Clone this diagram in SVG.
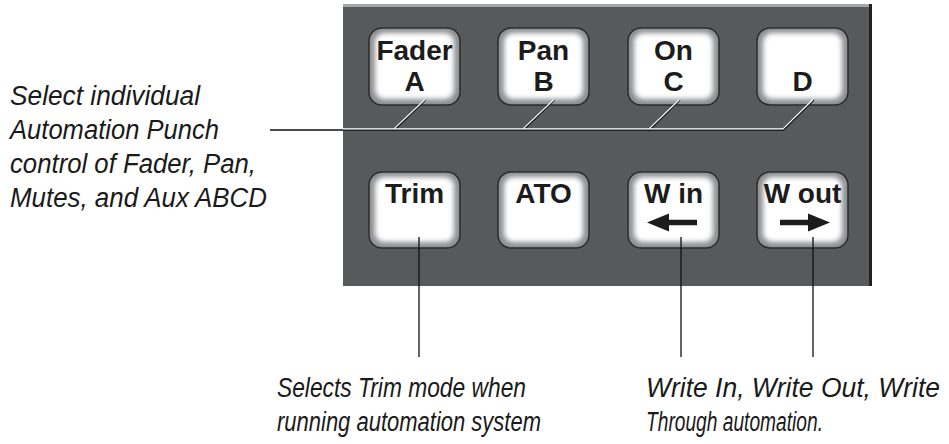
<svg xmlns="http://www.w3.org/2000/svg" width="949" height="444" viewBox="0 0 949 444">
<defs>
<filter id="soft" x="-20%" y="-20%" width="140%" height="140%"><feGaussianBlur stdDeviation="2.6"/></filter>
<style>
.btn{fill:#8e8f91;stroke:#2b2b2b;stroke-width:1.5}
.glow{fill:#ffffff;filter:url(#soft)}
.bt{font-family:"Liberation Sans",Arial,sans-serif;font-weight:bold;font-size:28px;fill:#1c1c1c;text-anchor:middle}
.note{font-family:"Liberation Sans",Arial,sans-serif;font-style:italic;font-size:27px;fill:#1a1a1a}
.lk{stroke:#111;stroke-width:1.3;fill:none}
.lw{stroke:#fff;stroke-width:1.1;fill:none}
</style>
</defs>
<rect width="949" height="444" fill="#ffffff"/>
<g id="panel">
<rect x="343" y="4" width="528" height="282" fill="#58595b"/>
<rect x="343" y="4" width="528" height="3" fill="#a3a7ab"/>
<rect x="869" y="4" width="3" height="282" fill="#231f20"/>
</g>
<g id="btn-fader"><rect class="btn" x="369" y="28" width="91" height="77" rx="13"/><rect class="glow" x="375" y="33" width="79" height="66" rx="9"/><text class="bt" x="414.5" y="60">Fader</text><text class="bt" x="414.5" y="91">A</text></g>
<g id="btn-pan"><rect class="btn" x="498" y="28" width="91" height="77" rx="13"/><rect class="glow" x="504" y="33" width="79" height="66" rx="9"/><text class="bt" x="543.5" y="60">Pan</text><text class="bt" x="543.5" y="91">B</text></g>
<g id="btn-on"><rect class="btn" x="628" y="28" width="91" height="77" rx="13"/><rect class="glow" x="634" y="33" width="79" height="66" rx="9"/><text class="bt" x="673.5" y="60">On</text><text class="bt" x="673.5" y="91">C</text></g>
<g id="btn-d"><rect class="btn" x="757" y="28" width="91" height="77" rx="13"/><rect class="glow" x="763" y="33" width="79" height="66" rx="9"/><text class="bt" x="802.5" y="91">D</text></g>
<g id="btn-trim"><rect class="btn" x="369" y="172" width="91" height="76" rx="13"/><rect class="glow" x="375" y="177" width="79" height="65" rx="9"/><text class="bt" x="414.5" y="203">Trim</text></g>
<g id="btn-ato"><rect class="btn" x="498" y="172" width="91" height="76" rx="13"/><rect class="glow" x="504" y="177" width="79" height="65" rx="9"/><text class="bt" x="543.5" y="203">ATO</text></g>
<g id="btn-win"><rect class="btn" x="628" y="172" width="91" height="76" rx="13"/><rect class="glow" x="634" y="177" width="79" height="65" rx="9"/><text class="bt" x="673.5" y="203">W in</text><path d="M647 222.5 L669 213.5 L669 219.8 L697 219.8 L697 225.2 L669 225.2 L669 231.5 Z" fill="#1c1c1c"/></g>
<g id="btn-wout"><rect class="btn" x="757" y="172" width="91" height="76" rx="13"/><rect class="glow" x="763" y="177" width="79" height="65" rx="9"/><text class="bt" x="802.5" y="203">W out</text><path d="M830 222.5 L808 213.5 L808 219.8 L780 219.8 L780 225.2 L808 225.2 L808 231.5 Z" fill="#1c1c1c"/></g>
<g id="connectors">
<path class="lk" d="M270 130 H783.5 L814 100"/>
<path class="lk" d="M394.5 130 L425.5 100 M523.5 130 L554.5 100 M649.5 130 L680 100"/>
<path class="lw" d="M343 128.9 H783 L813 99.5 M394 128.9 L425 99.5 M523 128.9 L554 99.5 M649 128.9 L679.5 99.5"/>
<path class="lk" d="M419 237 V357 M681 237 V357 M813 237 V357"/>
</g>
<g id="note-punch"><text class="note"><tspan x="10" y="105" textLength="190" lengthAdjust="spacingAndGlyphs">Select individual</tspan><tspan x="10" y="139" textLength="209" lengthAdjust="spacingAndGlyphs">Automation Punch</tspan><tspan x="10" y="173" textLength="246" lengthAdjust="spacingAndGlyphs">control of Fader, Pan,</tspan><tspan x="10" y="207" textLength="257" lengthAdjust="spacingAndGlyphs">Mutes, and Aux ABCD</tspan></text></g>
<g id="note-trim"><text class="note"><tspan x="277" y="397" textLength="249" lengthAdjust="spacingAndGlyphs">Selects Trim mode when</tspan><tspan x="277" y="431" textLength="264" lengthAdjust="spacingAndGlyphs">running automation system</tspan></text></g>
<g id="note-write"><text class="note"><tspan x="646" y="397" textLength="294" lengthAdjust="spacingAndGlyphs">Write In, Write Out, Write</tspan><tspan x="646" y="431" textLength="177" lengthAdjust="spacingAndGlyphs">Through automation.</tspan></text></g>
</svg>
